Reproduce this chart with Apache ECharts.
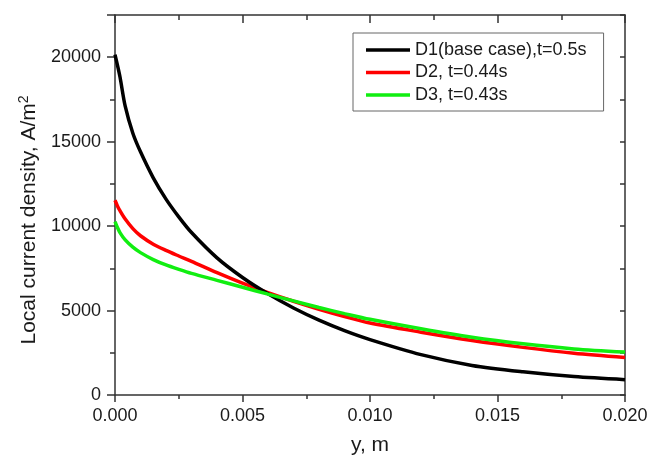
<!DOCTYPE html>
<html>
<head>
<meta charset="utf-8">
<script src="https://cdn.jsdelivr.net/npm/echarts@6/dist/echarts.min.js"></script>
<style>html,body{margin:0;padding:0;background:#fff}#c{width:651px;height:456px}</style>
</head>
<body>
<div id="c"></div>
<script>
// Position along y (m)
var yPos = [0, 0.0001, 0.0002, 0.0004, 0.0007, 0.001, 0.0015, 0.002, 0.0025, 0.003, 0.004, 0.005, 0.006, 0.007, 0.008, 0.009, 0.010, 0.012, 0.014, 0.016, 0.018, 0.020];
// Local current density (A/m^2)
var d1 = [20150, 19500, 18800, 17100, 15500, 14400, 12860, 11600, 10550, 9620, 8120, 6960, 5990, 5150, 4430, 3810, 3280, 2390, 1750, 1370, 1090, 910];
var d2 = [11530, 11180, 10900, 10420, 9850, 9430, 8930, 8560, 8230, 7910, 7240, 6620, 6060, 5550, 5080, 4650, 4258, 3720, 3230, 2820, 2470, 2220];
var d3 = [10270, 9900, 9600, 9180, 8750, 8430, 8020, 7700, 7440, 7200, 6790, 6380, 5970, 5570, 5180, 4820, 4480, 3920, 3420, 3030, 2730, 2540];
var seriesNames = ['D1(base case),t=0.5s', 'D2, t=0.44s', 'D3, t=0.43s'];
var xTicks = ['0.000', '0.005', '0.010', '0.015', '0.020'];

function pairs(v) { return yPos.map(function (x, i) { return [x, v[i]]; }); }

var FONT = 'Liberation Sans, Arial, sans-serif';
var axisCol = '#333';
var txtCol = '#1a1a1a';
var chart = echarts.init(document.getElementById('c'), null, {renderer: 'canvas'});

var xBase = {
  type: 'value', min: 0, max: 0.02, interval: 0.005, gridIndex: 0,
  axisLine: {show: true, onZero: false, lineStyle: {color: axisCol, width: 1.5}},
  splitLine: {show: false},
  minorTick: {show: true, splitNumber: 2, length: 4, lineStyle: {color: axisCol, width: 1.5}},
  axisTick: {show: true, length: 7, lineStyle: {color: axisCol, width: 1.5}}
};

var option = {
  animation: false,
  backgroundColor: '#fff',
  grid: {left: 115, right: 26, top: 15, bottom: 61, containLabel: false, outerBoundsMode: 'none'},
  textStyle: {fontFamily: FONT},
  legend: {
    orient: 'vertical', left: 353, top: 33,
    data: seriesNames,
    icon: 'rect', itemWidth: 44, itemHeight: 3.5, itemGap: 4.5,
    padding: [8, 17, 7, 13],
    borderColor: '#666', borderWidth: 1, borderRadius: 0,
    backgroundColor: '#fff',
    textStyle: {fontSize: 18, lineHeight: 18, color: txtCol, fontFamily: FONT}
  },
  xAxis: [
    Object.assign({}, xBase, {
      position: 'bottom',
      name: 'y, m', nameLocation: 'middle', nameGap: 40,
      nameTextStyle: {fontSize: 21, color: txtCol, fontFamily: FONT},
      axisLabel: {fontSize: 18, color: txtCol, margin: 12, fontFamily: FONT,
        formatter: function (v) { return xTicks[Math.round(v / 0.005)]; }}
    }),
    Object.assign({}, xBase, {
      position: 'top',
      axisLabel: {show: false},
      axisTick: {show: true, inside: true, length: 8, lineStyle: {color: axisCol, width: 1.5}},
      minorTick: {show: true, splitNumber: 2, length: 5, lineStyle: {color: axisCol, width: 1.5}}
    })
  ],
  yAxis: [
    {
      type: 'value', min: 0, max: 22500, interval: 2500, position: 'left',
      axisLine: {show: true, onZero: false, lineStyle: {color: axisCol, width: 1.5}},
      splitLine: {show: false},
      axisTick: {show: true, length: 5, lineStyle: {color: axisCol, width: 1.5}},
      axisLabel: {fontSize: 18, color: txtCol, margin: 14, fontFamily: FONT,
        formatter: function (v) { return (v % 5000 === 0) ? String(v) : ''; }},
      name: '{a|Local current density, A/m}{s|2}',
      nameLocation: 'middle', nameGap: 74, nameRotate: 90,
      nameTextStyle: {
        fontFamily: FONT, color: txtCol, padding: [0, 30, 0, 0],
        rich: {
          a: {fontSize: 21, lineHeight: 24, fontFamily: FONT, color: txtCol},
          s: {fontSize: 14, lineHeight: 24, verticalAlign: 'top', fontFamily: FONT, color: txtCol}
        }
      }
    },
    {
      type: 'value', min: 0, max: 22500, interval: 5000, position: 'left',
      axisLine: {show: false},
      splitLine: {show: false},
      axisTick: {show: true, length: 8, lineStyle: {color: axisCol, width: 1.5}},
      axisLabel: {show: false}
    },
    {
      type: 'value', min: 0, max: 22500, interval: 2500, position: 'right',
      axisLine: {show: true, onZero: false, lineStyle: {color: axisCol, width: 1.5}},
      splitLine: {show: false},
      axisTick: {show: true, inside: true, length: 5, lineStyle: {color: axisCol, width: 1.5}},
      axisLabel: {show: false}
    },
    {
      type: 'value', min: 0, max: 22500, interval: 5000, position: 'right',
      axisLine: {show: false},
      splitLine: {show: false},
      axisTick: {show: true, inside: true, length: 8, lineStyle: {color: axisCol, width: 1.5}},
      axisLabel: {show: false}
    }
  ],
  series: [
    {name: seriesNames[0], type: 'line', data: pairs(d1), smooth: 0.3, showSymbol: false,
      itemStyle: {color: '#000'}, lineStyle: {color: '#000', width: 3.5}, z: 3},
    {name: seriesNames[1], type: 'line', data: pairs(d2), smooth: 0.3, showSymbol: false,
      itemStyle: {color: '#ff0000'}, lineStyle: {color: '#ff0000', width: 3.5}, z: 2},
    {name: seriesNames[2], type: 'line', data: pairs(d3), smooth: 0.3, showSymbol: false,
      itemStyle: {color: '#11ee11'}, lineStyle: {color: '#11ee11', width: 3.5}, z: 4}
  ]
};
chart.setOption(option);
</script>
</body>
</html>
